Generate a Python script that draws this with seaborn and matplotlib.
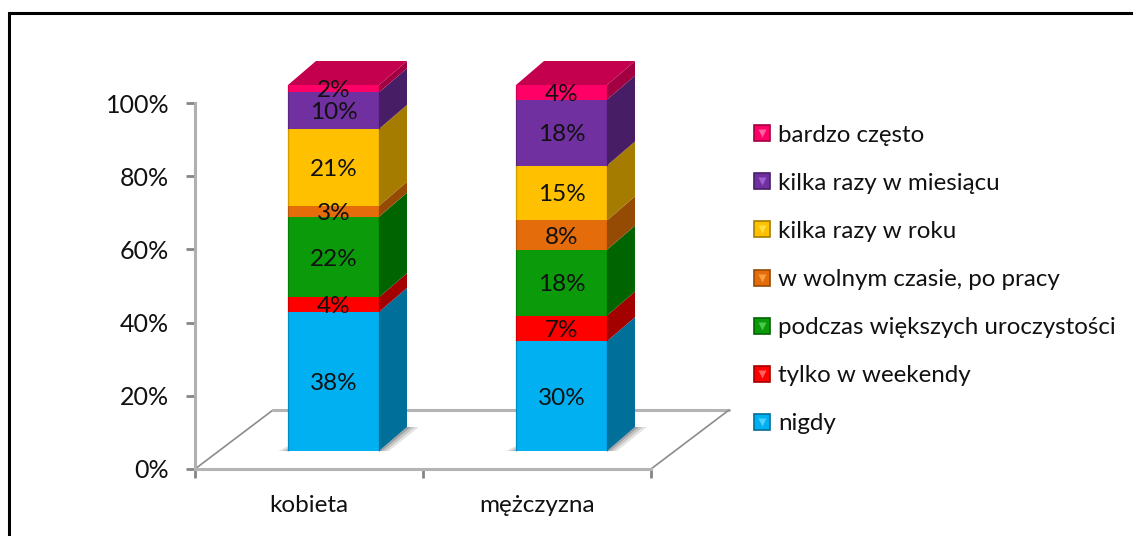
import matplotlib
matplotlib.use("Agg")
import matplotlib.pyplot as plt
from matplotlib.legend_handler import HandlerTuple
from matplotlib.lines import Line2D
import numpy as np
import seaborn as sns

categories = ["kobieta", "mężczyzna"]
series_names = ["nigdy", "tylko w weekendy", "podczas większych uroczystości",
                "w wolnym czasie, po pracy", "kilka razy w roku",
                "kilka razy w miesiącu", "bardzo często"]
nigdy = [38, 30]
tylko_w_weekendy = [4, 7]
uroczystosci = [22, 18]
wolny_czas = [3, 8]
kilka_w_roku = [21, 15]
kilka_w_miesiacu = [10, 18]
bardzo_czesto = [2, 4]
y_ticks = [0, 20, 40, 60, 80, 100]

series_values = [nigdy, tylko_w_weekendy, uroczystosci, wolny_czas,
                 kilka_w_roku, kilka_w_miesiacu, bardzo_czesto]
front_colors = ["#00B0F0", "#FF0000", "#0A9A0A", "#E46C0A", "#FFC000", "#7030A0", "#FF0066"]
side_colors = ["#00709A", "#A30000", "#006400", "#964B05", "#A67C00", "#471E66", "#A30041"]
top_color = "#C4004E"
light_colors = ["#4FD0FF", "#FF6060", "#4CC84C", "#FFA040", "#FFE040", "#A060D0", "#FF60A0"]

# pixel geometry of the reference
W, H = 1133, 536
X0, X1 = 195, 651      # x axis span
Y0, Y100 = 469, 103    # 0% and 100%
Y_TOP = 50
PX_X = (X1 - X0) / 2
PX_Y = (Y0 - Y100) / 100

BAR_WIDTH = 91 / PX_X
BAR_SHIFT = 24.5 / PX_X
BASE = 18 / PX_Y       # bars stand on the floor, above the 0% line
DX = 28 / PX_X         # depth of the 3d look
DY = 24 / PX_Y

sns.set_theme(style="white")
plt.rcParams["font.family"] = ["Lato", "DejaVu Sans"]

fig = plt.figure(figsize=(W / 100, H / 100), dpi=100)
ax = fig.add_axes([X0 / W, 1 - Y0 / H, (X1 - X0) / W, (Y0 - Y_TOP) / H])
ax.patch.set_alpha(0)
ax.set_xlim(-0.5, 1.5)
ax.set_ylim(0, (Y0 - Y_TOP) / PX_Y)

xpos = np.arange(len(categories)) + BAR_SHIFT
left = xpos - BAR_WIDTH / 2
right = xpos + BAR_WIDTH / 2

# floor of the 3d chart
floor_x = [-0.5, -0.5 + 78 / PX_X, 1.5 + 78 / PX_X, 1.5]
floor_y = [0, 59 / PX_Y, 59 / PX_Y, 0]
ax.plot(floor_x[:2], floor_y[:2], color="#8C8C8C", lw=1.2, clip_on=False, zorder=1)
ax.plot(floor_x[1:3], floor_y[1:3], color="#B4B4B4", lw=2.2, clip_on=False, zorder=1)
ax.plot(floor_x[2:], floor_y[2:], color="#8C8C8C", lw=1.2, clip_on=False, zorder=1)

# soft shadow under the bars, left sliver and right wedge
for i in range(len(categories)):
    for grow, alpha in [(1.0, 0.15), (0.65, 0.2), (0.3, 0.3)]:
        ax.fill([left[i] - 10 * grow / PX_X, left[i], left[i]],
                [BASE, BASE, BASE + 5 * grow / PX_Y],
                color="#505050", alpha=alpha, lw=0, zorder=1.5)
        ax.fill([right[i], right[i] + DX, right[i] + DX + 12 * grow / PX_X, right[i] + 10 * grow / PX_X],
                [BASE, BASE + DY, BASE + DY, BASE],
                color="#505050", alpha=alpha, lw=0, zorder=1.5)

# stacked front faces, side faces and labels
bottom = np.full(len(categories), BASE, dtype=float)
for name, values, front, side in zip(series_names, series_values, front_colors, side_colors):
    values = np.array(values, dtype=float)
    sns.barplot(x=xpos, y=values, bottom=bottom, native_scale=True, width=BAR_WIDTH,
                color=front, saturation=1, linewidth=0, ax=ax, zorder=3)
    for i in range(len(categories)):
        lo, hi = bottom[i], bottom[i] + values[i]
        ax.fill([right[i], right[i] + DX, right[i] + DX, right[i]],
                [lo, lo + DY, hi + DY, hi], color=side, lw=0, zorder=2)
        # darker rim on the front face edges
        ax.plot([left[i], left[i]], [lo, hi], color=side, lw=1, alpha=0.5, zorder=4, solid_capstyle="butt")
        ax.plot([right[i], right[i]], [lo, hi], color=side, lw=1, alpha=0.7, zorder=4, solid_capstyle="butt")
    bottom = bottom + values

# top face
for i in range(len(categories)):
    ax.fill([left[i], left[i] + DX, right[i] + DX, right[i]],
            [bottom[i], bottom[i] + DY, bottom[i] + DY, bottom[i]],
            color=top_color, lw=0, zorder=2.5)

# labels go last so they sit over the neighbouring segments
bottom = np.full(len(categories), BASE, dtype=float)
for values in series_values:
    for i, v in enumerate(values):
        ax.text(xpos[i], bottom[i] + v / 2, f"{v}%", ha="center", va="center_baseline",
                fontsize=17.5, color="#111111", zorder=5)
    bottom = bottom + np.array(values)

# axes
sns.despine(ax=ax, top=True, right=True)
ax.spines["left"].set_bounds(0, 100)
ax.spines["left"].set_color("#B0B0B0")
ax.spines["left"].set_linewidth(2.2)
ax.spines["bottom"].set_color("#B4B4B4")
ax.spines["bottom"].set_linewidth(2.2)
ax.set_yticks(y_ticks)
ax.set_yticklabels([f"{t}%" for t in y_ticks], fontsize=18, color="#111111")
ax.set_xticks([-0.5, 0.5, 1.5])
ax.set_xticklabels([])
ax.tick_params(axis="both", length=6.5, width=2, color="#858585", left=True, bottom=True)
ax.tick_params(axis="y", pad=12)
ax.set_xlabel("")
ax.set_ylabel("")
for i, cat in enumerate(categories):
    ax.annotate(cat, xy=(i, 0), xycoords=("data", "axes fraction"), xytext=(0, -36 * 0.72),
                textcoords="offset points", ha="center", va="center", fontsize=17.5, color="#111111")

# legend, top entry first
handles = []
for front, side, light in zip(front_colors, side_colors, light_colors):
    square = Line2D([], [], ls="", marker="s", ms=11.5, mfc=front, mec=side, mew=1.2)
    mark = Line2D([], [], ls="", marker="v", ms=6, mfc=light, mec="none")
    handles.append((square, mark))
leg = ax.legend(handles[::-1], series_names[::-1], handler_map={tuple: HandlerTuple(ndivide=1, pad=0)},
                loc="center left", bbox_to_anchor=(747.5 / W, 1 - 279.5 / H), bbox_transform=fig.transFigure,
                frameon=False, fontsize=17.4, labelspacing=1.12, handlelength=1.2, handletextpad=0.06,
                borderpad=0, borderaxespad=0)
for t in leg.get_texts():
    t.set_color("#111111")

# black frame, cut off by the picture on the right and at the bottom
fig.add_artist(Line2D([8.5 / W, 8.5 / W, 1], [0, 1 - 12.5 / H, 1 - 12.5 / H],
                      color="black", lw=2.2, solid_joinstyle="miter"))

fig.savefig("out.png", dpi=100)
plt.close(fig)
